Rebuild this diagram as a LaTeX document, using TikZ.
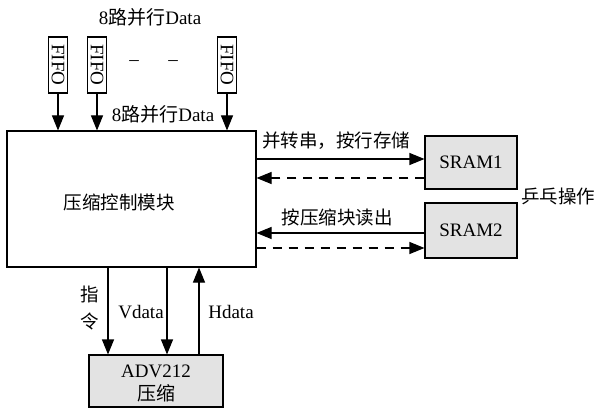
\documentclass[tikz,border=0pt]{standalone}
\usepackage{fontspec}
\setmainfont{Liberation Serif}
\newfontfamily\cjk{Noto Sans CJK SC}
\usetikzlibrary{arrows.meta,calc}
\begin{document}
\begin{tikzpicture}[x=1pt,y=-1pt,
  every node/.style={font=\fontsize{19}{22}\selectfont, inner sep=0pt},
  cj/.style={font=\fontsize{18.5}{22}\selectfont\cjk},
  box/.style={draw, line width=1.1pt, inner sep=0pt},
  gbox/.style={box, fill=gray!22},
  arr/.style={-{Triangle[length=15pt,width=12pt]}, line width=1.1pt},
  darr/.style={arr, dash pattern=on 9pt off 7pt}]
\useasboundingbox (0,0) rectangle (595,417);

% title
\node (t1) at (150,17) {8{\cjk 路并行}Data};

% FIFOs
\node[box, minimum width=19pt, minimum height=56pt] (f1) at (58,65) {};
\node[box, minimum width=19pt, minimum height=56pt] (f2) at (97,65) {};
\node[box, minimum width=19pt, minimum height=56pt] (f3) at (227,65) {};
\node[rotate=-90] (f1t) at (f1) {FIFO};
\node[rotate=-90] (f2t) at (f2) {FIFO};
\node[rotate=-90] (f3t) at (f3) {FIFO};
\node (d1) at (134,63) {--};
\node (d2) at (173,63) {--};

% main block
\node[box, minimum width=249pt, minimum height=136pt] (main) at (131.5,199) {};
\node[cj] (mt) at (119,202) {压缩控制模块};

\node (t2) at (163,114) {8{\cjk 路并行}Data};

\draw[arr] (f1.south) -- (f1.south |- main.north);
\draw[arr] (f2.south) -- (f2.south |- main.north);
\draw[arr] (f3.south) -- (f3.south |- main.north);

% SRAMs
\node[gbox, minimum width=92pt, minimum height=53pt] (s1) at (471,162.5) {SRAM1};
\node[gbox, minimum width=92pt, minimum height=55pt] (s2) at (471,230.5) {SRAM2};
\node[cj, anchor=west] (pp) at (521,196) {乒乓操作};

\coordinate (y1) at (0,159);
\coordinate (y2) at (0,178);
\coordinate (y3) at (0,233);
\coordinate (y4) at (0,248);
\draw[arr] (main.east |- y1) -- (s1.west |- y1);
\draw[darr] (s1.west |- y2) -- (main.east |- y2);
\draw[arr] (s2.west |- y3) -- (main.east |- y3);
\draw[darr] (main.east |- y4) -- (s2.west |- y4);
\node[cj] (l1) at (336,141) {并转串，按行存储};
\node[cj] (l2) at (337,217) {按压缩块读出};

% ADV212
\node[gbox, minimum width=134pt, minimum height=52pt, align=center] (adv) at (156,381) {};
\node[align=center] (advt) at (156,383) {ADV212\\[1pt]{\cjk 压缩}};

\coordinate (xa) at (108,0);
\coordinate (xb) at (167,0);
\coordinate (xc) at (199,0);
\draw[arr] (main.south -| xa) -- (adv.north -| xa);
\draw[arr] (main.south -| xb) -- (adv.north -| xb);
\draw[arr] (adv.north -| xc) -- (main.south -| xc);
\node[cj, align=center] (lz) at (90,308) {指\\[5pt]令};
\node (lv) at (141,312) {Vdata};
\node (lh) at (231,312) {Hdata};
\end{tikzpicture}
\end{document}
